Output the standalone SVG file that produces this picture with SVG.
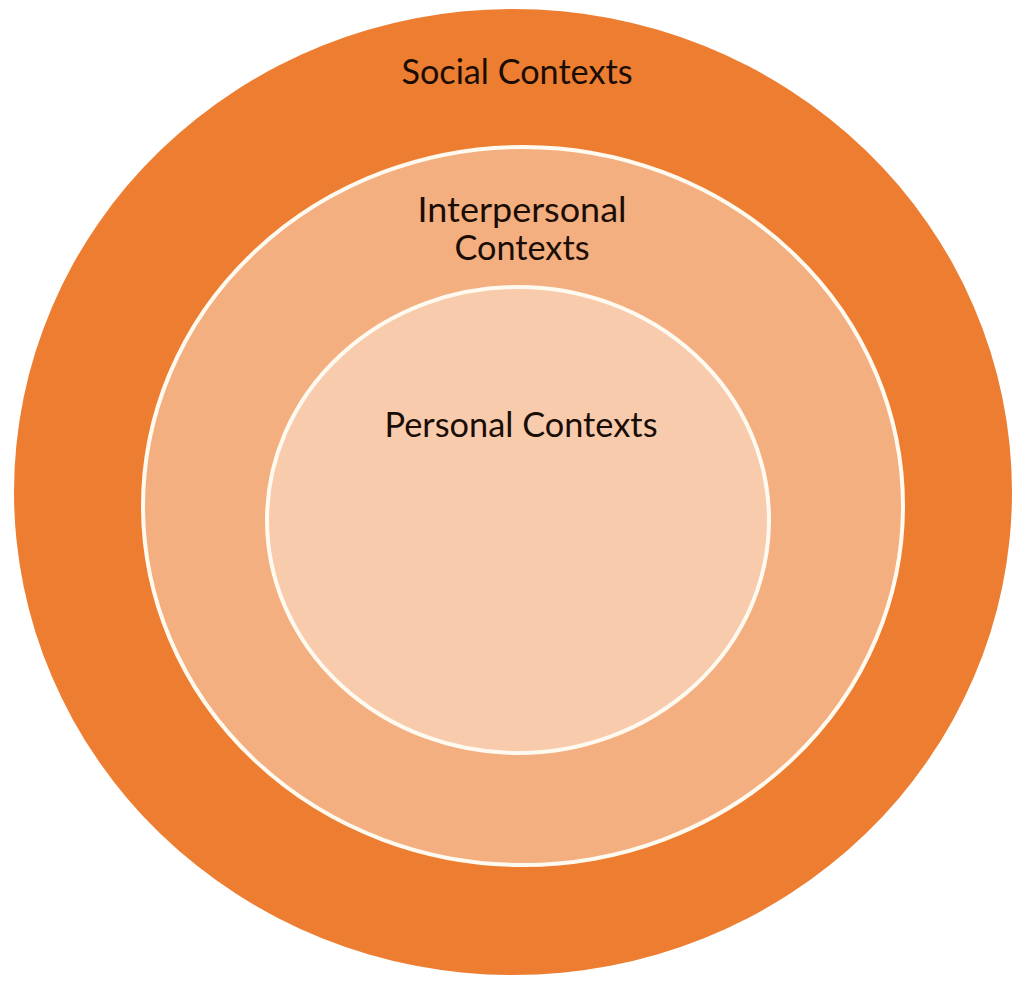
<svg xmlns="http://www.w3.org/2000/svg" width="1013" height="984" viewBox="0 0 1013 984">
<style>
.lbl{font-family:Lato,"Open Sans","Liberation Sans",sans-serif;font-size:35px;fill:#1a0d05;text-anchor:middle}
.ring{stroke:#fffaf0;stroke-width:4}
</style>
<rect width="1013" height="984" fill="#ffffff"/>
<g id="social">
<ellipse cx="513" cy="492" rx="499" ry="483" fill="#ED7D31"/>
<text class="lbl" x="517" y="84" textLength="231" lengthAdjust="spacingAndGlyphs">Social Contexts</text>
</g>
<g id="interpersonal">
<ellipse class="ring" cx="523" cy="506" rx="380" ry="359" fill="#F4AF80"/>
<text class="lbl" x="522" y="222" textLength="209" lengthAdjust="spacingAndGlyphs">Interpersonal</text>
<text class="lbl" x="522" y="260" textLength="135" lengthAdjust="spacingAndGlyphs">Contexts</text>
</g>
<g id="personal">
<ellipse class="ring" cx="518" cy="520" rx="251" ry="233" fill="#F8CBAD"/>
<text class="lbl" x="521" y="437" textLength="273" lengthAdjust="spacingAndGlyphs">Personal Contexts</text>
</g>
<g id="connectors"/>
</svg>
